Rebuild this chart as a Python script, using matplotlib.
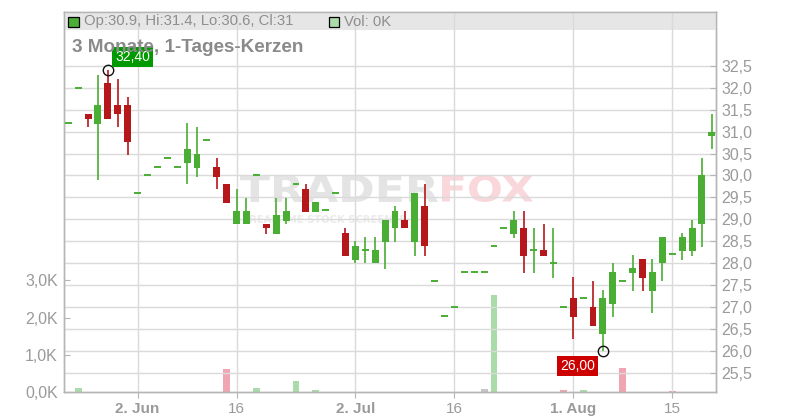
import matplotlib
matplotlib.use('Agg')
import matplotlib.pyplot as plt
from matplotlib.patches import Rectangle, PathPatch
from matplotlib.textpath import TextPath
from matplotlib.font_manager import FontProperties
import matplotlib.transforms as mtrans

plt.rcParams['font.family'] = ['Liberation Sans', 'DejaVu Sans']

# ---- data (3 months, daily candles) ----
opens = [31.2, 32.0, 31.4, 31.18, 32.1, 31.6, 31.6, 29.6, 30.0, 30.2,
         30.4, 30.2, 30.29, 30.18, 30.8, 30.2, 29.8, 28.88, 28.88, 30.0,
         28.9, 28.67, 28.97, 29.8, 29.69, 29.17, 29.2, 29.6, 28.69, 28.08,
         28.29, 28.0, 28.49, 28.79, 28.98, 28.49, 29.3, 27.6, 26.8, 27.0,
         27.8, 27.8, 27.8, 28.4, 28.8, 28.67, 28.8, 28.29, 28.3, 27.99,
         27.0, 27.2, 27.2, 27.0, 26.37, 27.07, 27.6, 27.78, 28.09, 27.36,
         28.0, 28.2, 28.28, 28.28, 28.88, 30.9]
highs = [31.2, 32.0, 31.4, 32.3, 32.4, 32.2, 31.8, 29.6, 30.0, 30.2,
         30.4, 30.2, 31.2, 31.1, 30.8, 30.4, 29.8, 29.7, 29.49, 30.0,
         28.9, 29.49, 29.49, 29.8, 29.8, 29.39, 29.2, 29.6, 28.8, 28.5,
         28.6, 28.6, 28.98, 29.3, 29.19, 29.6, 29.8, 27.6, 26.8, 27.0,
         27.8, 27.8, 27.8, 28.4, 28.8, 29.19, 29.19, 28.8, 28.89, 28.8,
         27.0, 27.68, 27.2, 27.59, 27.39, 28.0, 27.6, 28.18, 28.09, 28.09,
         28.6, 28.2, 28.69, 28.98, 30.4, 31.4]
lows = [31.2, 32.0, 31.1, 29.9, 31.28, 31.1, 30.47, 29.6, 30.0, 30.2,
        30.4, 30.2, 29.8, 29.97, 30.8, 29.7, 29.38, 28.88, 28.88, 30.0,
        28.67, 28.67, 28.88, 29.8, 29.17, 29.17, 29.2, 29.6, 28.17, 28.0,
        28.0, 28.0, 27.87, 28.49, 28.79, 28.17, 28.17, 27.6, 26.8, 27.0,
        27.8, 27.8, 27.8, 28.4, 28.8, 28.58, 27.78, 27.78, 28.17, 27.67,
        27.0, 26.27, 27.2, 26.57, 26.0, 26.78, 27.6, 27.36, 27.36, 26.87,
        27.58, 28.2, 28.08, 28.17, 28.37, 30.6]
closes = [31.2, 32.0, 31.28, 31.6, 31.28, 31.4, 30.77, 29.6, 30.0, 30.2,
          30.4, 30.2, 30.6, 30.49, 30.8, 29.97, 29.38, 29.19, 29.19, 30.0,
          28.8, 29.1, 29.19, 29.8, 29.17, 29.39, 29.2, 29.6, 28.17, 28.39,
          28.29, 28.3, 28.98, 29.19, 28.79, 29.6, 28.38, 27.6, 26.8, 27.0,
          27.8, 27.8, 27.8, 28.4, 28.8, 28.98, 28.17, 28.29, 28.17, 27.99,
          27.0, 26.78, 27.2, 26.57, 27.2, 27.8, 27.6, 27.89, 27.67, 27.8,
          28.6, 28.2, 28.6, 28.8, 30.0, 31.0]
volumes_k = [0, 0.115, 0, 0, 0, 0, 0, 0, 0, 0,
             0, 0, 0, 0, 0, 0, 0.62, 0, 0, 0.115,
             0, 0, 0, 0.30, 0, 0.06, 0, 0, 0, 0,
             0, 0, 0, 0, 0, 0, 0, 0, 0, 0,
             0, 0, 0.09, 2.60, 0, 0, 0, 0, 0, 0,
             0.06, 0, 0.06, 0, 0, 0, 0.65, 0, 0, 0,
             0, 0.04, 0, 0, 0, 0]
date_tick_idx = [7, 17, 29, 39, 51, 61]
date_tick_labels = ['2. Jun', '16', '2. Jul', '16', '1. Aug', '15']
date_tick_bold = [True, False, True, False, True, False]
price_ticks = [25.5, 26.0, 26.5, 27.0, 27.5, 28.0, 28.5, 29.0, 29.5, 30.0,
               30.5, 31.0, 31.5, 32.0, 32.5]
vol_ticks = [0, 1, 2, 3]
hi_idx, hi_val = 4, 32.40
lo_idx, lo_val = 54, 26.00

GREEN = '#4aad34'
RED = '#b5171b'
VGREEN = '#aadcaa'
VRED = '#f0a6b0'
VGRAY = '#c6c6c6'
GRID = '#dadada'
AXC = '#b5b5b5'
TXT = '#9a9a9a'

W, H = 800, 420
fig = plt.figure(figsize=(8, 4.2), dpi=100)
L, R, T, B = 63.5, 716, 12, 392.3
ax = fig.add_axes([L / W, (H - B) / H, (R - L) / W, (B - T) / H])

n = len(opens)
xs = list(range(n))
ax.set_xlim(-0.48, 65.42)
ax.set_ylim(25.05, 33.73)

# grid
ax.set_axisbelow(True)
ax.set_xticks(date_tick_idx)
ax.set_yticks(price_ticks)
ax.grid(True, color=GRID, lw=1)

# header band
ax.add_patch(Rectangle((0, 1 - 18 / (B - T)), 1, 18 / (B - T), transform=ax.transAxes,
                       fc='#e6e6e6', ec='none', zorder=0.3))

# watermark (pixel box: x0..x1, ytop..ybot from the top edge)
def wm(text, x0, x1, ytop, ybot, color, weight='bold'):
    fp = FontProperties(family='DejaVu Sans', weight=weight)
    tp = TextPath((0, 0), text, size=1, prop=fp)
    ext = tp.get_extents()
    sx = (x1 - x0) / ext.width
    sy = (ybot - ytop) / ext.height
    tr = mtrans.Affine2D().translate(-ext.x0, -ext.y0).scale(sx, sy).translate(x0, H - ybot)
    p = PathPatch(tp, transform=tr, fc=color, ec='none', zorder=0.2)
    ax.add_artist(p)

wm('TRADER', 240, 438, 175, 202, '#e4e4e4')
wm('FOX', 442, 533, 175, 202, '#f9d7da')
wm('REALTIME STOCK SCREENER', 250, 407, 215, 223, '#ebebeb')

# volume axis
axv = ax.twinx()
axv.set_ylim(0, 10.17)
vcols = []
for i in range(n):
    if i == 0 or closes[i] > closes[i - 1]:
        vcols.append(VGREEN)
    elif closes[i] < closes[i - 1]:
        vcols.append(VRED)
    else:
        vcols.append(VGRAY)
axv.bar(xs, volumes_k, width=0.7, color=vcols, zorder=2)
axv.patch.set_visible(False)

# candles
for i in range(n):
    o, h, l, c = opens[i], highs[i], lows[i], closes[i]
    col = GREEN if c >= o else RED
    if h > l:
        ax.vlines(i, l, h, color=col, lw=1.2, zorder=3)
    if abs(c - o) < 1e-9:
        ax.hlines(c, i - 0.35, i + 0.35, color=col, lw=1.4, zorder=3)
    else:
        ax.bar(i, abs(c - o), bottom=min(o, c), width=0.7, color=col, zorder=3)

# price axis (right)
ax.yaxis.tick_right()
ax.set_yticklabels([('%.1f' % v).replace('.', ',') for v in price_ticks])
ax.tick_params(axis='y', direction='in', length=4, color=AXC, labelcolor=TXT,
               labelsize=11.5, pad=4)
ax.set_xticklabels(date_tick_labels)
ax.tick_params(axis='x', direction='out', length=4, color=AXC, labelcolor=TXT,
               labelsize=11, pad=3)
for lab, b in zip(ax.get_xticklabels(), date_tick_bold):
    lab.set_fontweight('bold' if b else 'normal')

axv.yaxis.tick_left()
axv.set_yticks(vol_ticks)
axv.set_yticklabels([('%.1fK' % v).replace('.', ',') for v in vol_ticks])
axv.tick_params(axis='y', direction='in', length=4, color=AXC, labelcolor=TXT,
                labelsize=11.5, pad=4)

for a in (ax, axv):
    for s in a.spines.values():
        s.set_color(AXC)
        s.set_linewidth(1)

# hi / lo markers
axv.set_zorder(ax.get_zorder() - 1)
ax.patch.set_visible(False)
ax.plot(hi_idx, hi_val, 'o', mfc='none', mec='#111111', ms=7.5, mew=1, zorder=6)
ax.plot(lo_idx, lo_val, 'o', mfc='none', mec='#111111', ms=7.5, mew=1, zorder=6)
ax.annotate(('%.2f' % hi_val).replace('.', ','), xy=(hi_idx, hi_val), xytext=(25, 13),
            textcoords='offset pixels', ha='center', va='center', color='white', fontsize=10,
            bbox=dict(boxstyle='square,pad=0.22', fc='#009900', ec='none'), zorder=7)
ax.annotate(('%.2f' % lo_val).replace('.', ','), xy=(lo_idx, lo_val), xytext=(-25, -15),
            textcoords='offset pixels', ha='center', va='center', color='white', fontsize=10,
            bbox=dict(boxstyle='square,pad=0.22', fc='#cc0000', ec='none'), zorder=7)

# header contents
def px(x, y):
    return x / W, 1 - y / H

fig.patches.append(Rectangle(px(68.3, 26.5), 10.5 / W, 9.5 / H, transform=fig.transFigure,
                             fc=GREEN, ec='black', lw=0.9, figure=fig, zorder=5))
fig.text(*px(84, 21.5), 'Op:30.9, Hi:31.4, Lo:30.6, Cl:31', color='#8e8e8e', fontsize=10.7,
         va='center', ha='left', zorder=6)
fig.patches.append(Rectangle(px(328.5, 26.5), 10.5 / W, 9.5 / H, transform=fig.transFigure,
                             fc=VGREEN, ec='black', lw=0.9, figure=fig, zorder=5))
fig.text(*px(344, 21.5), 'Vol: 0K', color='#8e8e8e', fontsize=10.7, va='center', ha='left',
         zorder=6)
fig.text(*px(72, 48), '3 Monate, 1-Tages-Kerzen', color='#8a8a8a', fontsize=13.6,
         fontweight='bold', va='center', ha='left', zorder=4)

fig.savefig('out.png', dpi=100)
